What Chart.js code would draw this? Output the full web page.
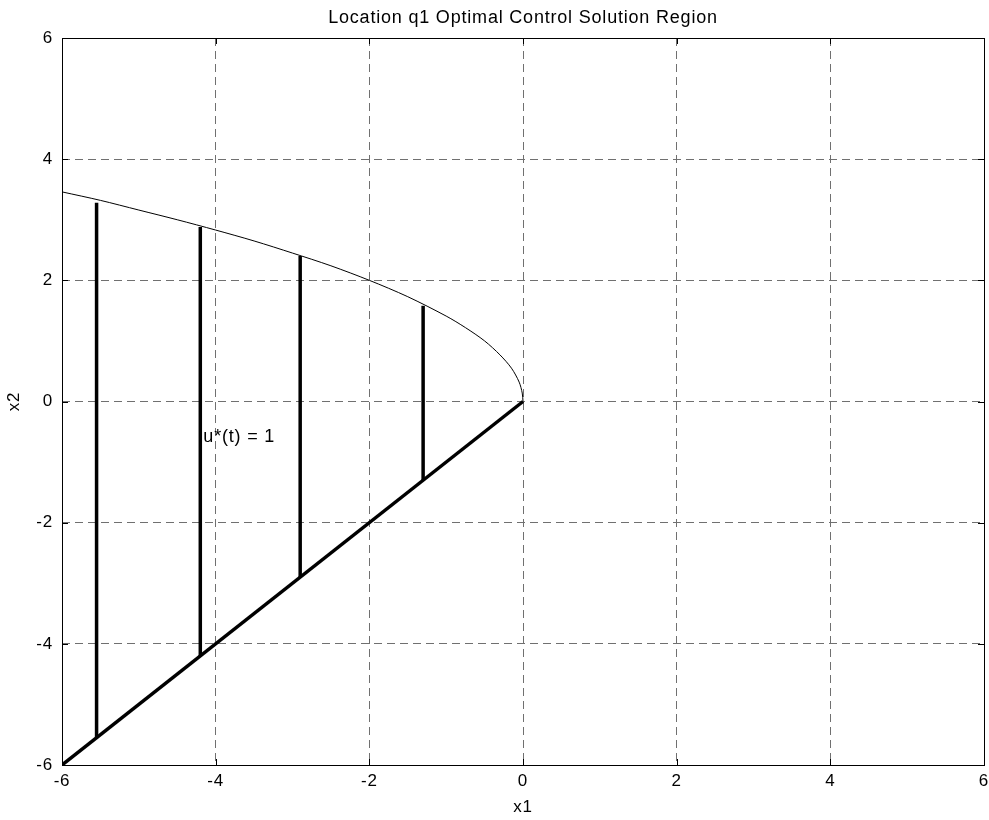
<!DOCTYPE html>
<html>
<head>
<meta charset="utf-8">
<script src="https://cdn.jsdelivr.net/npm/chart.js@4"></script>
<style>
  html, body { margin: 0; padding: 0; background: #fff; }
  #wrap { width: 989px; height: 820px; }
</style>
</head>
<body>
<div id="wrap"><canvas id="c" width="989" height="820"></canvas></div>
<script>
// Switching curve boundary x2 on the upper side
const curveX = [-6, -5.5, -5, -4.5, -4, -3.5, -3, -2.5, -2, -1.5, -1, -0.75, -0.5, -0.3, -0.15, -0.05, -0.01, 0];
const curveY = [3.46, 3.32, 3.16, 3.0, 2.83, 2.65, 2.45, 2.24, 2.0, 1.73, 1.41, 1.22, 1.0, 0.77, 0.55, 0.32, 0.14, 0];

// Lower boundary segment x2 = x1
const edgeX = [-6, 0];
const edgeY = [-6, 0];

// Vertical hatch segments inside the region
const stemX = [-5.55, -4.2, -2.9, -1.3];
const stemTop = [3.28, 2.88, 2.4, 1.58];
const stemBottom = [-5.55, -4.2, -2.9, -1.3];

// Axis ticks
const xTicks = [-6, -4, -2, 0, 2, 4, 6];
const yTicks = [-6, -4, -2, 0, 2, 4, 6];

// Region annotation
const noteX = [-4.16];
const noteY = [-0.58];
const noteText = ['u*(t) = 1'];

const titleText = 'Location q1 Optimal Control Solution Region';
const FONT = '"Liberation Sans", Arial, sans-serif';
const SPACING = '0.8px';

const datasets = [];
datasets.push({
  data: curveX.map((x, i) => ({ x, y: curveY[i] })),
  borderColor: '#000', borderWidth: 1, showLine: true, pointRadius: 0, tension: 0.3
});
datasets.push({
  data: edgeX.map((x, i) => ({ x, y: edgeY[i] })),
  borderColor: '#000', borderWidth: 3.5, showLine: true, pointRadius: 0
});
stemX.forEach((x, i) => {
  datasets.push({
    data: [{ x, y: stemBottom[i] }, { x, y: stemTop[i] }],
    borderColor: '#000', borderWidth: 3.5, showLine: true, pointRadius: 0, borderCapStyle: 'butt'
  });
});

// Box, inward tick marks, title and annotation
const framePlugin = {
  id: 'frame',
  beforeDraw(chart) {
    chart.ctx.letterSpacing = SPACING;
  },
  afterDatasetsDraw(chart) {
    const { ctx, chartArea: a, scales } = chart;
    ctx.save();
    ctx.strokeStyle = '#000';
    ctx.lineWidth = 1;
    ctx.beginPath();
    const L = 6;
    xTicks.forEach(v => {
      const px = Math.round(scales.x.getPixelForValue(v)) + 0.5;
      ctx.moveTo(px, a.bottom); ctx.lineTo(px, a.bottom - L);
      ctx.moveTo(px, a.top); ctx.lineTo(px, a.top + L);
    });
    yTicks.forEach(v => {
      const py = Math.round(scales.y.getPixelForValue(v)) + 0.5;
      ctx.moveTo(a.left, py); ctx.lineTo(a.left + L, py);
      ctx.moveTo(a.right, py); ctx.lineTo(a.right - L, py);
    });
    ctx.stroke();
    ctx.strokeRect(Math.round(a.left) + 0.5, Math.round(a.top) + 0.5,
                   Math.round(a.right - a.left), Math.round(a.bottom - a.top));

    ctx.fillStyle = '#000';
    ctx.letterSpacing = SPACING;
    ctx.font = '18px ' + FONT;
    ctx.textAlign = 'left';
    ctx.textBaseline = 'middle';
    noteText.forEach((t, i) => {
      ctx.fillText(t, scales.x.getPixelForValue(noteX[i]), scales.y.getPixelForValue(noteY[i]));
    });

    ctx.textAlign = 'center';
    ctx.textBaseline = 'middle';
    ctx.font = '18px ' + FONT;
    ctx.fillText(titleText, (a.left + a.right) / 2, 18);
    ctx.restore();
  }
};

new Chart(document.getElementById('c'), {
  type: 'scatter',
  data: { datasets },
  options: {
    responsive: false,
    animation: false,
    layout: { padding: { top: 38, right: 5, left: 0, bottom: 0 } },
    plugins: { legend: { display: false }, tooltip: { enabled: false } },
    scales: {
      x: {
        type: 'linear', min: -6, max: 6,
        afterFit(s) { s.height = 55; s.paddingLeft = 0; s.paddingRight = 0; },
        afterBuildTicks(s) { s.ticks = xTicks.map(v => ({ value: v })); },
        border: { display: false, dash: [8, 5] },
        grid: { color: '#707070', lineWidth: 1, drawTicks: false },
        ticks: { color: '#000', padding: 6, font: { family: FONT, size: 17 } },
        title: { display: true, text: 'x1', color: '#000', padding: { top: 4, bottom: 2 }, font: { family: FONT, size: 17 } }
      },
      y: {
        type: 'linear', min: -6, max: 6,
        afterFit(s) { s.width = 62; s.paddingTop = 0; s.paddingBottom = 0; },
        afterBuildTicks(s) { s.ticks = yTicks.map(v => ({ value: v })); },
        border: { display: false, dash: [8, 5] },
        grid: { color: '#707070', lineWidth: 1, drawTicks: false },
        ticks: { color: '#000', padding: 9, font: { family: FONT, size: 17 } },
        title: { display: true, text: 'x2', color: '#000', padding: { top: 4, bottom: 0 }, font: { family: FONT, size: 17 } }
      }
    }
  },
  plugins: [framePlugin]
});
</script>
</body>
</html>
